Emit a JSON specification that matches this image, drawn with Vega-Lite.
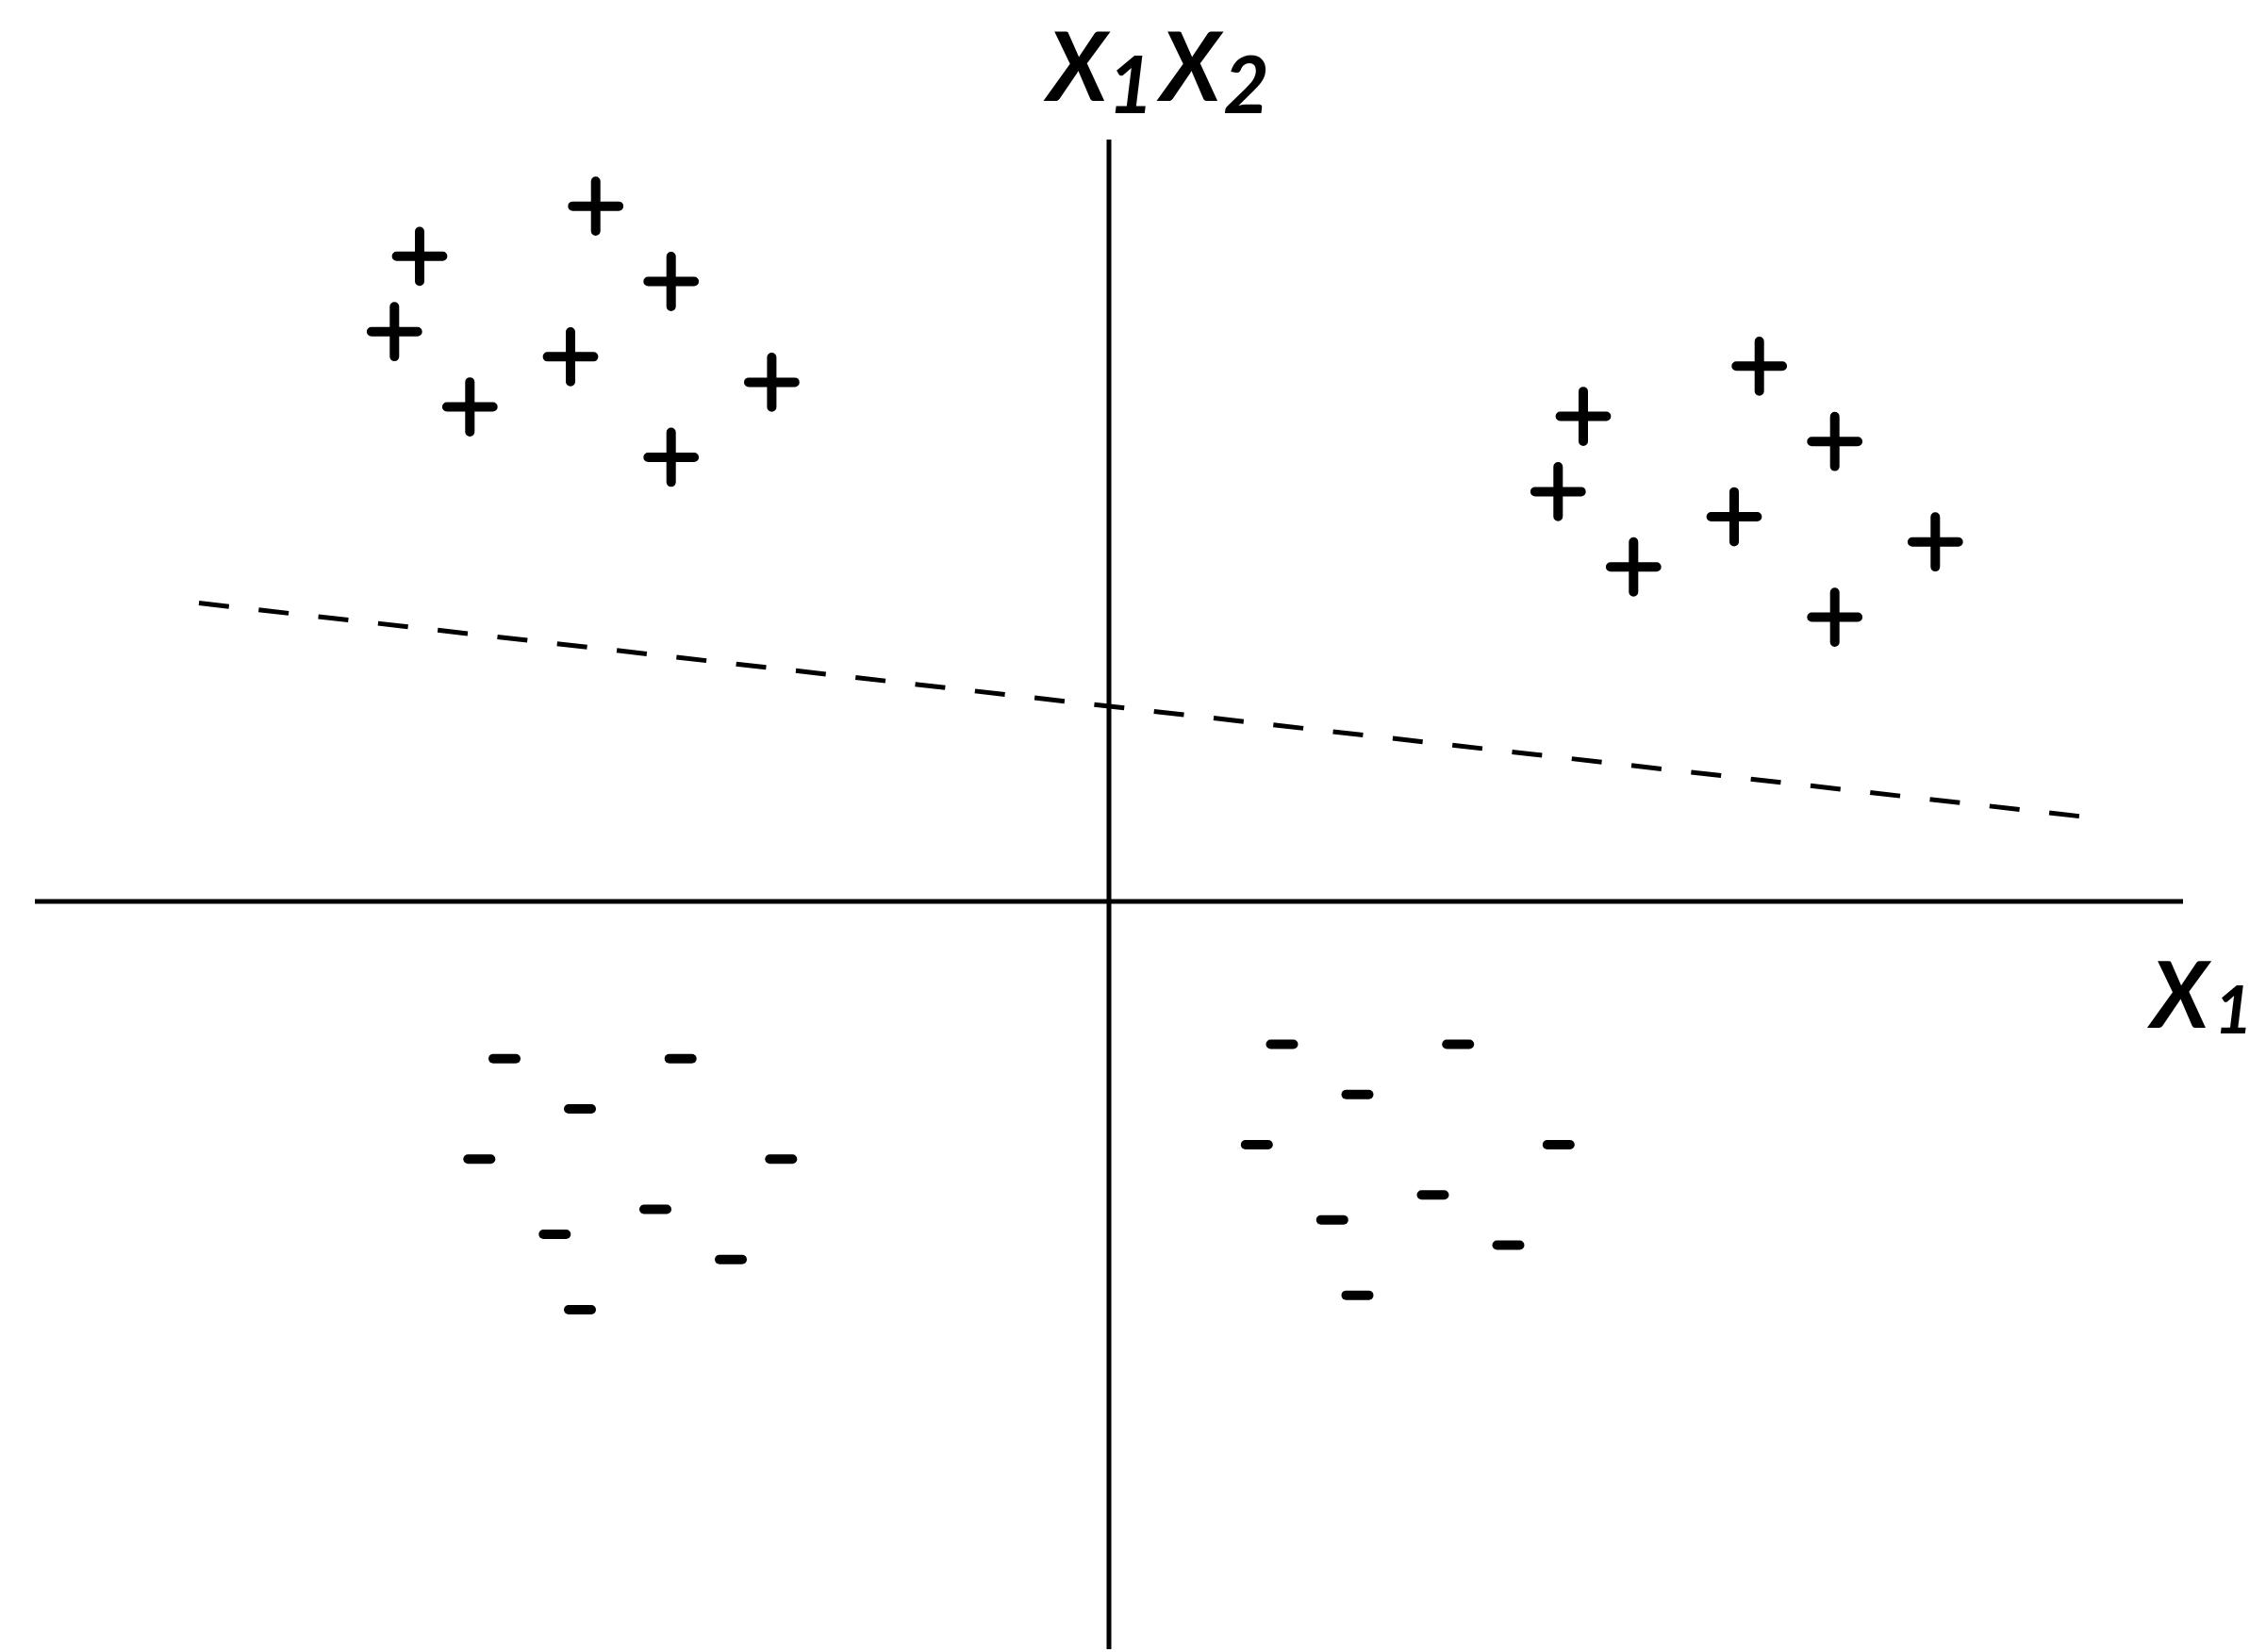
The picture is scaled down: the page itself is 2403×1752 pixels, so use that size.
{
  "$schema": "https://vega.github.io/schema/vega-lite/v6.json",
  "width": 2403,
  "height": 1752,
  "autosize": {"type": "fit", "contains": "padding"},
  "padding": 0,
  "background": "white",
  "config": {"view": {"stroke": null}},
  "datasets": {
    "points": [
      {"sign": "+", "x": -544.3, "y": 738.7},
      {"sign": "+", "x": -731, "y": 685.4},
      {"sign": "+", "x": -464.3, "y": 658.7},
      {"sign": "+", "x": -757.7, "y": 605.4},
      {"sign": "+", "x": -571, "y": 578.7},
      {"sign": "+", "x": -357.6, "y": 551.6},
      {"sign": "+", "x": -677.7, "y": 525.4},
      {"sign": "+", "x": -464.3, "y": 471.9},
      {"sign": "+", "x": 689.7, "y": 568.7},
      {"sign": "+", "x": 503, "y": 515.4},
      {"sign": "+", "x": 769.7, "y": 488.7},
      {"sign": "+", "x": 476.3, "y": 435.4},
      {"sign": "+", "x": 663, "y": 408.7},
      {"sign": "+", "x": 876.3, "y": 382},
      {"sign": "+", "x": 556.3, "y": 355.4},
      {"sign": "+", "x": 769.7, "y": 302},
      {"sign": "-", "x": -641, "y": -167},
      {"sign": "-", "x": -454.3, "y": -167},
      {"sign": "-", "x": -561, "y": -220.3},
      {"sign": "-", "x": -667.7, "y": -273.6},
      {"sign": "-", "x": -347.7, "y": -273.6},
      {"sign": "-", "x": -481, "y": -327},
      {"sign": "-", "x": -587.7, "y": -353.6},
      {"sign": "-", "x": -401, "y": -380.3},
      {"sign": "-", "x": -561, "y": -433.6},
      {"sign": "-", "x": 183.5, "y": -151.7},
      {"sign": "-", "x": 370.2, "y": -151.7},
      {"sign": "-", "x": 263.5, "y": -205},
      {"sign": "-", "x": 156.8, "y": -258.3},
      {"sign": "-", "x": 476.8, "y": -258.3},
      {"sign": "-", "x": 343.5, "y": -311.7},
      {"sign": "-", "x": 236.8, "y": -338.3},
      {"sign": "-", "x": 423.5, "y": -365},
      {"sign": "-", "x": 263.5, "y": -418.3}
    ],
    "axes": [
      {"axis": "X1", "x": -1139, "x2": 1139, "y": 0, "y2": 0},
      {"axis": "X2", "x": 0, "x2": 0, "y": 809.4, "y2": -794.3}
    ],
    "boundary": [
      {"x": -965, "y": 317, "x2": 1034, "y2": 90}
    ],
    "titleMain": [
      {"text": "X", "x": -33.5, "y": 851},
      {"text": "X", "x": 86.5, "y": 851}
    ],
    "titleSub": [
      {"text": "1", "x": 23, "y": 837.7},
      {"text": "2", "x": 145.7, "y": 837.7}
    ],
    "labelMain": [
      {"text": "X", "x": 1135.5, "y": -134}
    ],
    "labelSub": [
      {"text": "1", "x": 1192.5, "y": -140.6}
    ]
  },
  "encoding": {
    "x": {"field": "x", "type": "quantitative", "scale": {"domain": [-1176, 1227], "nice": false, "zero": false}, "axis": null},
    "y": {"field": "y", "type": "quantitative", "scale": {"domain": [-794.3, 957.7], "nice": false, "zero": false}, "axis": null}
  },
  "layer": [
    {
      "data": {"name": "axes"},
      "mark": {"type": "rule", "stroke": "black", "strokeWidth": 5, "strokeCap": "butt"},
      "encoding": {"x2": {"field": "x2"}, "y2": {"field": "y2"}}
    },
    {
      "data": {"name": "boundary"},
      "mark": {"type": "rule", "stroke": "black", "strokeWidth": 5, "strokeCap": "butt", "strokeDash": [32, 31.7]},
      "encoding": {"x2": {"field": "x2"}, "y2": {"field": "y2"}}
    },
    {
      "data": {"name": "points"},
      "transform": [{"filter": "datum.sign === '+'"}],
      "mark": {"type": "point", "shape": "M -0.924 0 L 0.924 0 M 0 -1 L 0 1", "size": 2788, "filled": false, "stroke": "black", "strokeWidth": 10, "strokeCap": "round", "opacity": 1}
    },
    {
      "data": {"name": "points"},
      "transform": [{"filter": "datum.sign === '-'"}],
      "mark": {"type": "point", "shape": "M -1 0 L 1 0", "size": 576, "filled": false, "stroke": "black", "strokeWidth": 10, "strokeCap": "round", "opacity": 1}
    },
    {
      "data": {"name": "titleMain"},
      "mark": {"type": "text", "font": "Lato", "fontStyle": "italic", "fontWeight": "bold", "fontSize": 101, "align": "center", "baseline": "alphabetic", "color": "black"},
      "encoding": {"text": {"field": "text"}}
    },
    {
      "data": {"name": "titleSub"},
      "mark": {"type": "text", "font": "Lato", "fontStyle": "italic", "fontWeight": "bold", "fontSize": 84, "align": "center", "baseline": "alphabetic", "color": "black"},
      "encoding": {"text": {"field": "text"}}
    },
    {
      "data": {"name": "labelMain"},
      "mark": {"type": "text", "font": "Lato", "fontStyle": "italic", "fontWeight": "bold", "fontSize": 97, "align": "center", "baseline": "alphabetic", "color": "black"},
      "encoding": {"text": {"field": "text"}}
    },
    {
      "data": {"name": "labelSub"},
      "mark": {"type": "text", "font": "Lato", "fontStyle": "italic", "fontWeight": "bold", "fontSize": 70, "align": "center", "baseline": "alphabetic", "color": "black"},
      "encoding": {"text": {"field": "text"}}
    }
  ]
}
